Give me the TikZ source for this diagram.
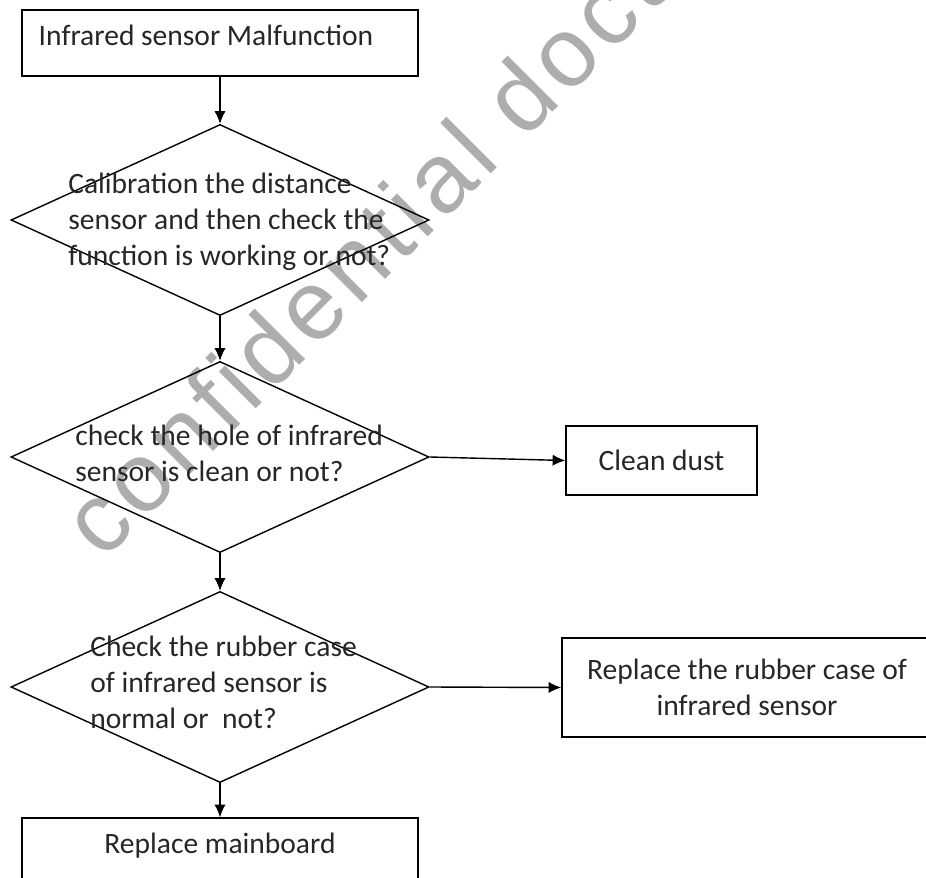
\documentclass[tikz,border=0pt]{standalone}
\usepackage{fontspec}
\setmainfont{Carlito}
\newfontfamily\wmfont[LetterSpace=6]{Liberation Sans}
\usetikzlibrary{shapes.geometric,arrows.meta}

\begin{document}
\begin{tikzpicture}[>={Latex[length=9pt,width=8pt]}, x=0.025cm, y=-0.025cm,
    every node/.style={font=\fontsize{21}{25.6}\selectfont, text=black!85},
    block/.style={draw, line width=1pt, rectangle, inner sep=0pt},
    topbox/.style={block, minimum width=9.9cm, minimum height=1.65cm, text depth=0.4cm},
    decision/.style={draw, line width=1pt, diamond, inner sep=0pt,
        minimum width=10.45cm, minimum height=4.775cm},
    qtext/.style={inner sep=0pt, align=left, anchor=west},
    flow/.style={->, line width=1pt},
    wmark/.style={text=black!32, font=\wmfont\fontsize{70}{70}\selectfont}]
    \clip (0,0) rectangle (926,878);
    % watermark behind the chart
    \node[wmark, rotate=45, anchor=base west] (wm) at (100,565) {confidential document};

    \node[topbox] (start) at (220,43) {Infrared sensor Malfunction\hspace*{0.7cm}};
    \node[decision] (d1) at (220,220) {};
    \node[qtext] (q1) at (68,222) {Calibration the distance\\sensor and then check the\\function is working or not?};
    \node[decision] (d2) at (220,457) {};
    \node[qtext] (q2) at (75,453) {check the hole of infrared\\sensor is clean or not?};
    \node[decision] (d3) at (220,687) {};
    \node[qtext] (q3) at (90,682) {Check the rubber case\\of infrared sensor is\\normal or~ not?};
    \node[block, minimum width=4.775cm, minimum height=1.725cm] (dust) at (661.5,460.5) {Clean dust};
    \node[block, align=center, minimum width=9.25cm, minimum height=2.475cm] (rubber) at (747,687.5) {Replace the rubber case of\\infrared sensor};
    \node[topbox] (board) at (220,851) {Replace mainboard};

    \draw[flow] (start.south) -- (d1.north);
    \draw[flow] (d1.south) -- (d2.north);
    \draw[flow] (d2.south) -- (d3.north);
    \draw[flow] (d3.south) -- (board.north);
    \draw[flow] (d2.east) -- (dust.west);
    \draw[flow] (d3.east) -- (rubber.west);
\end{tikzpicture}
\end{document}
